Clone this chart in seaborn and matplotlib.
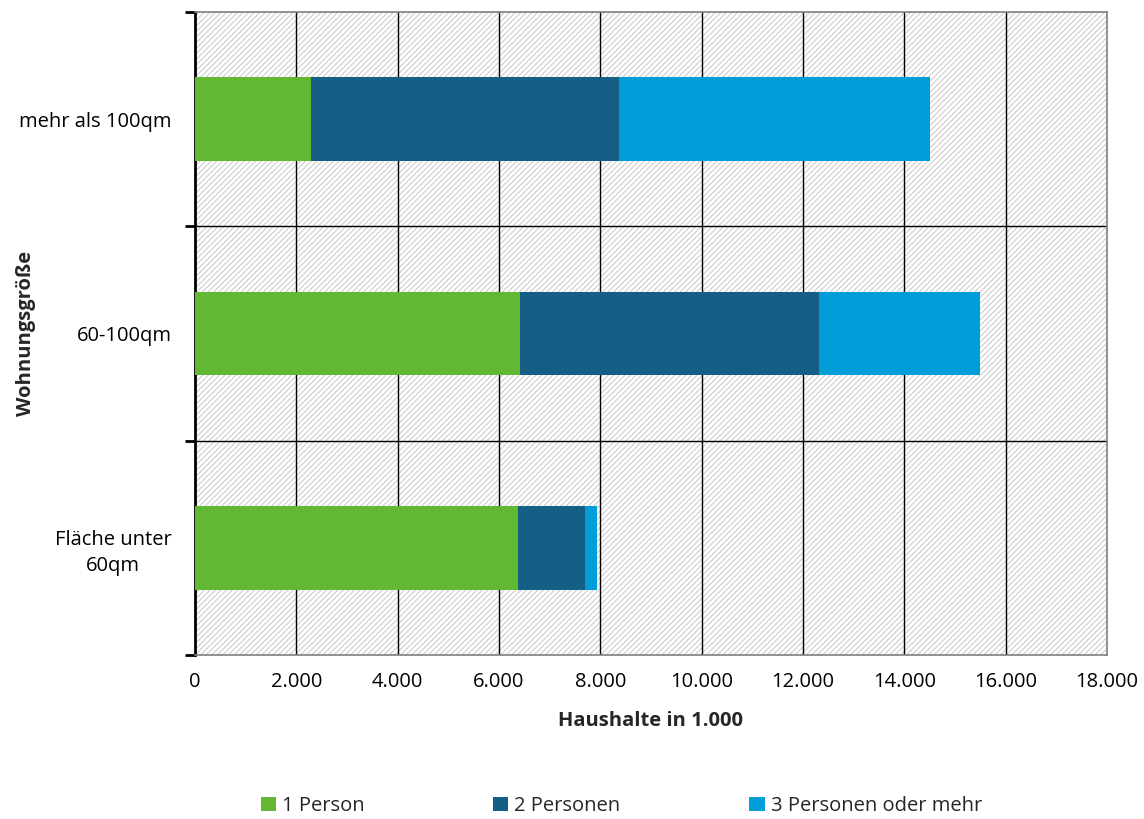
import numpy as np
import pandas as pd
import matplotlib
matplotlib.use("Agg")
import matplotlib.pyplot as plt
from matplotlib.patches import Rectangle, Patch
from matplotlib.ticker import FuncFormatter, MultipleLocator, FixedLocator
import seaborn as sns

# Haushalte (in 1.000) nach Wohnungsgröße und Haushaltsgröße
categories = ["mehr als 100qm", "60-100qm", "Fläche unter\n60qm"]
series_names = ["1 Person", "2 Personen", "3 Personen oder mehr"]
one_person = [2290, 6410, 6380]
two_persons = [6080, 5900, 1320]
three_plus = [6140, 3180, 240]
colors = ["#62b833", "#155f86", "#009dd8"]

sns.set_theme(style="white")
plt.rcParams["font.family"] = ["Open Sans", "DejaVu Sans"]
plt.rcParams["hatch.linewidth"] = 0.9
plt.rcParams["hatch.color"] = "#d2d2d2"

FS = 14.5

df = pd.DataFrame({
    "Wohnungsgröße": categories,
    series_names[0]: one_person,
    series_names[1]: two_persons,
    series_names[2]: three_plus,
})
cum = df[series_names].cumsum(axis=1)

fig = plt.figure(figsize=(11.44, 8.19), dpi=100)
ax = fig.add_axes([195 / 1144, 1 - 655 / 819, (1107 - 195) / 1144, (655 - 12) / 819])

# hatched plot background
ax.add_patch(Rectangle((0, 0), 1, 1, transform=ax.transAxes, facecolor="white",
                       edgecolor="#d2d2d2", hatch="//////", linewidth=0, zorder=0))

# stacked bars: draw cumulative totals, widest first
for name, col in reversed(list(zip(series_names, colors))):
    sns.barplot(x=cum[name], y=df["Wohnungsgröße"], orient="h", color=col,
                width=0.39, saturation=1, linewidth=0, ax=ax, zorder=3)

ax.set_xlim(0, 18000)
ax.set_ylim(2.5, -0.5)
ax.xaxis.set_major_locator(MultipleLocator(2000))
ax.xaxis.set_major_formatter(FuncFormatter(lambda v, p: f"{int(v):,}".replace(",", ".")))

for v in np.arange(2000, 18000, 2000):
    ax.axvline(v, color="black", linewidth=1, zorder=1)
for y in (0.5, 1.5):
    ax.axhline(y, color="black", linewidth=1, zorder=1)

ax.yaxis.set_major_locator(FixedLocator([0, 1, 2]))
ax.yaxis.set_minor_locator(FixedLocator([-0.5, 0.5, 1.5, 2.5]))
ax.tick_params(axis="y", which="major", length=0, pad=17, labelsize=FS, colors="black")
ax.tick_params(axis="y", which="minor", length=7, width=2, color="black", left=True)
ax.tick_params(axis="x", length=0, pad=12, labelsize=FS, colors="black")
for lab in ax.get_yticklabels():
    lab.set_horizontalalignment("right")
    lab.set_multialignment("center")
    lab.set_linespacing(1.4)

for s in ("top", "right", "bottom"):
    ax.spines[s].set_color("#7f7f7f")
    ax.spines[s].set_linewidth(1.2)
ax.spines["left"].set_color("black")
ax.spines["left"].set_linewidth(2)

ax.set_xlabel("Haushalte in 1.000", fontsize=FS, fontweight="bold", labelpad=14)
ax.set_ylabel("Wohnungsgröße", fontsize=FS, fontweight="bold")
ax.yaxis.set_label_coords(-0.174, 0.5)

handles = [Patch(facecolor=c, edgecolor="none") for c in colors]
fig.legend(handles, series_names, loc="center", bbox_to_anchor=(0.543, 1 - 806 / 819),
           ncol=3, frameon=False, fontsize=FS, handlelength=0.75, handleheight=0.75,
           handletextpad=0.3, columnspacing=6.4)

fig.savefig("out.png", dpi=100)
